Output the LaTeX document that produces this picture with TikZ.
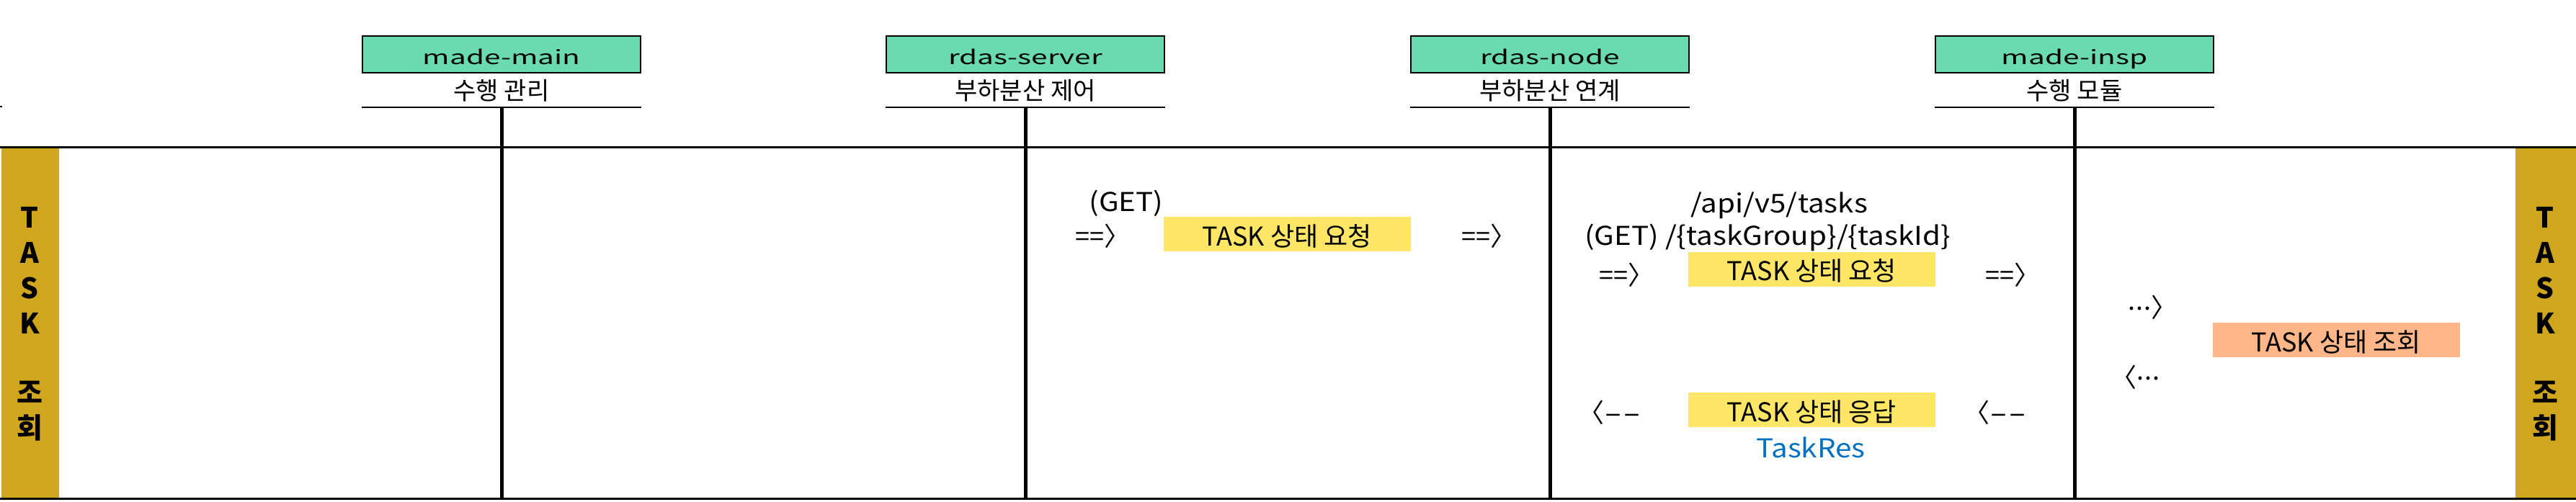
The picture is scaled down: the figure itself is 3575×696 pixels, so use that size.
\documentclass[tikz,border=0pt]{standalone}
\usepackage{graphicx}
\usepackage{fontspec}
\setmainfont{Noto Sans CJK KR}
\newfontfamily\hdfont[FakeStretch=1.5]{Noto Sans CJK KR}
\newfontfamily\latfont[FakeStretch=1.12]{Noto Sans CJK KR}
\definecolor{hdgreen}{HTML}{6ADBB0}
\definecolor{msgyellow}{HTML}{FFE666}
\definecolor{msgsalmon}{HTML}{FFB688}
\definecolor{sidegold}{HTML}{CFA61E}
\definecolor{resblue}{HTML}{0070C0}
\newcommand{\middots}{\raisebox{10pt}{.\kern1pt.\kern1pt.}}
\newcommand{\longdashes}{\scalebox{2}[1]{-}\kern1pt\scalebox{2}[1]{-}}
\begin{document}
\begin{tikzpicture}[x=1pt,y=-1pt,
  hdbox/.style={draw=black, line width=2.5pt, fill=hdgreen, minimum width=386pt, minimum height=51pt, inner sep=0pt, text height=30pt, text depth=3pt, font=\hdfont\fontsize{27}{32}\selectfont},
  subt/.style={anchor=base, inner sep=0pt, font=\fontsize{34}{40}\selectfont},
  msgbox/.style={minimum width=343pt, minimum height=48pt, inner sep=0pt, text height=35pt, text depth=3pt, font=\fontsize{36}{43}\selectfont},
  lbl/.style={anchor=base, inner sep=0pt, font=\latfont\fontsize{36}{43}\selectfont},
  arr/.style={inner sep=0pt, font=\fontsize{36}{43}\selectfont},
  side/.style={anchor=base, inner sep=0pt, font=\bfseries\fontsize{39}{46}\selectfont},
  lifeline/.style={line width=5pt},
  rule/.style={line width=3pt},
  uline/.style={line width=2.5pt}
]
\useasboundingbox (0,0) rectangle (3575,696);

% side bands
\fill[sidegold] (2,205) rectangle (82,691);
\fill[sidegold] (3491,205) rectangle (3575,691);

% horizontal rules
\coordinate (tl) at (0,204); \coordinate (tr) at (3575,204);
\coordinate (bl) at (0,692); \coordinate (br) at (3575,692);
\draw[rule] (tl) -- (tr);
\draw[rule] (bl) -- (br);
\draw[line width=2pt] (0,148) -- (2.5,148);

% side texts
\foreach \c/\y [count=\i] in {T/316,A/365,S/414,K/463,조/559,회/608}{
  \node[side] (ls\i) at (41,\y) {\c};
  \node[side] (rs\i) at (3532,\y) {\c};
}

% headers and lifelines
\foreach \x/\name/\sub [count=\i] in {696/made-main/수행 관리,1423/rdas-server/부하분산 제어,2151/rdas-node/부하분산 연계,2879/made-insp/수행 모듈}{
  \node[hdbox] (hd\i) at (\x,75.5) {\name};
  \node[subt] (sb\i) at (\x,138) {\sub};
  \coordinate (u\i) at (\x,149);
  \coordinate (b\i) at (\x,692);
  \draw[uline] (hd\i.west |- u\i) -- (hd\i.east |- u\i);
  \draw[lifeline] (u\i) -- (b\i);
}

% messages
\node[lbl] (get1) at (1563,293) {(GET)};
\node[arr, anchor=west] (a1) at (1492,328) {==〉};
\node[msgbox, fill=msgyellow] (m1) at (1786,325) {TASK 상태 요청};
\node[arr, anchor=west] (a2) at (2028,328) {==〉};

\node[lbl] (api1) at (2469,295) {/api/v5/tasks};
\node[lbl] (api2) at (2453,340) {(GET) /\{taskGroup\}/\{taskId\}};
\node[arr, anchor=west] (a3) at (2219,382) {==〉};
\node[msgbox, fill=msgyellow] (m2) at (2514.5,373.5) {TASK 상태 요청};
\node[arr, anchor=west] (a4) at (2755,382) {==〉};

\node[arr, anchor=east] (a5) at (2278,573) {〈\longdashes};
\node[msgbox, fill=msgyellow] (m3) at (2514.5,569) {TASK 상태 응답};
\node[arr, anchor=east] (a6) at (2813,573) {〈\longdashes};
\node[lbl, text=resblue] (res) at (2513,635) {TaskRes};

\node[arr, anchor=west] (a7) at (2953,427) {\middots〉};
\node[arr, anchor=east] (a8) at (2998,524) {〈\middots};
\node[msgbox, fill=msgsalmon] (m4) at (3242,472) {TASK 상태 조회};
\end{tikzpicture}
\end{document}
